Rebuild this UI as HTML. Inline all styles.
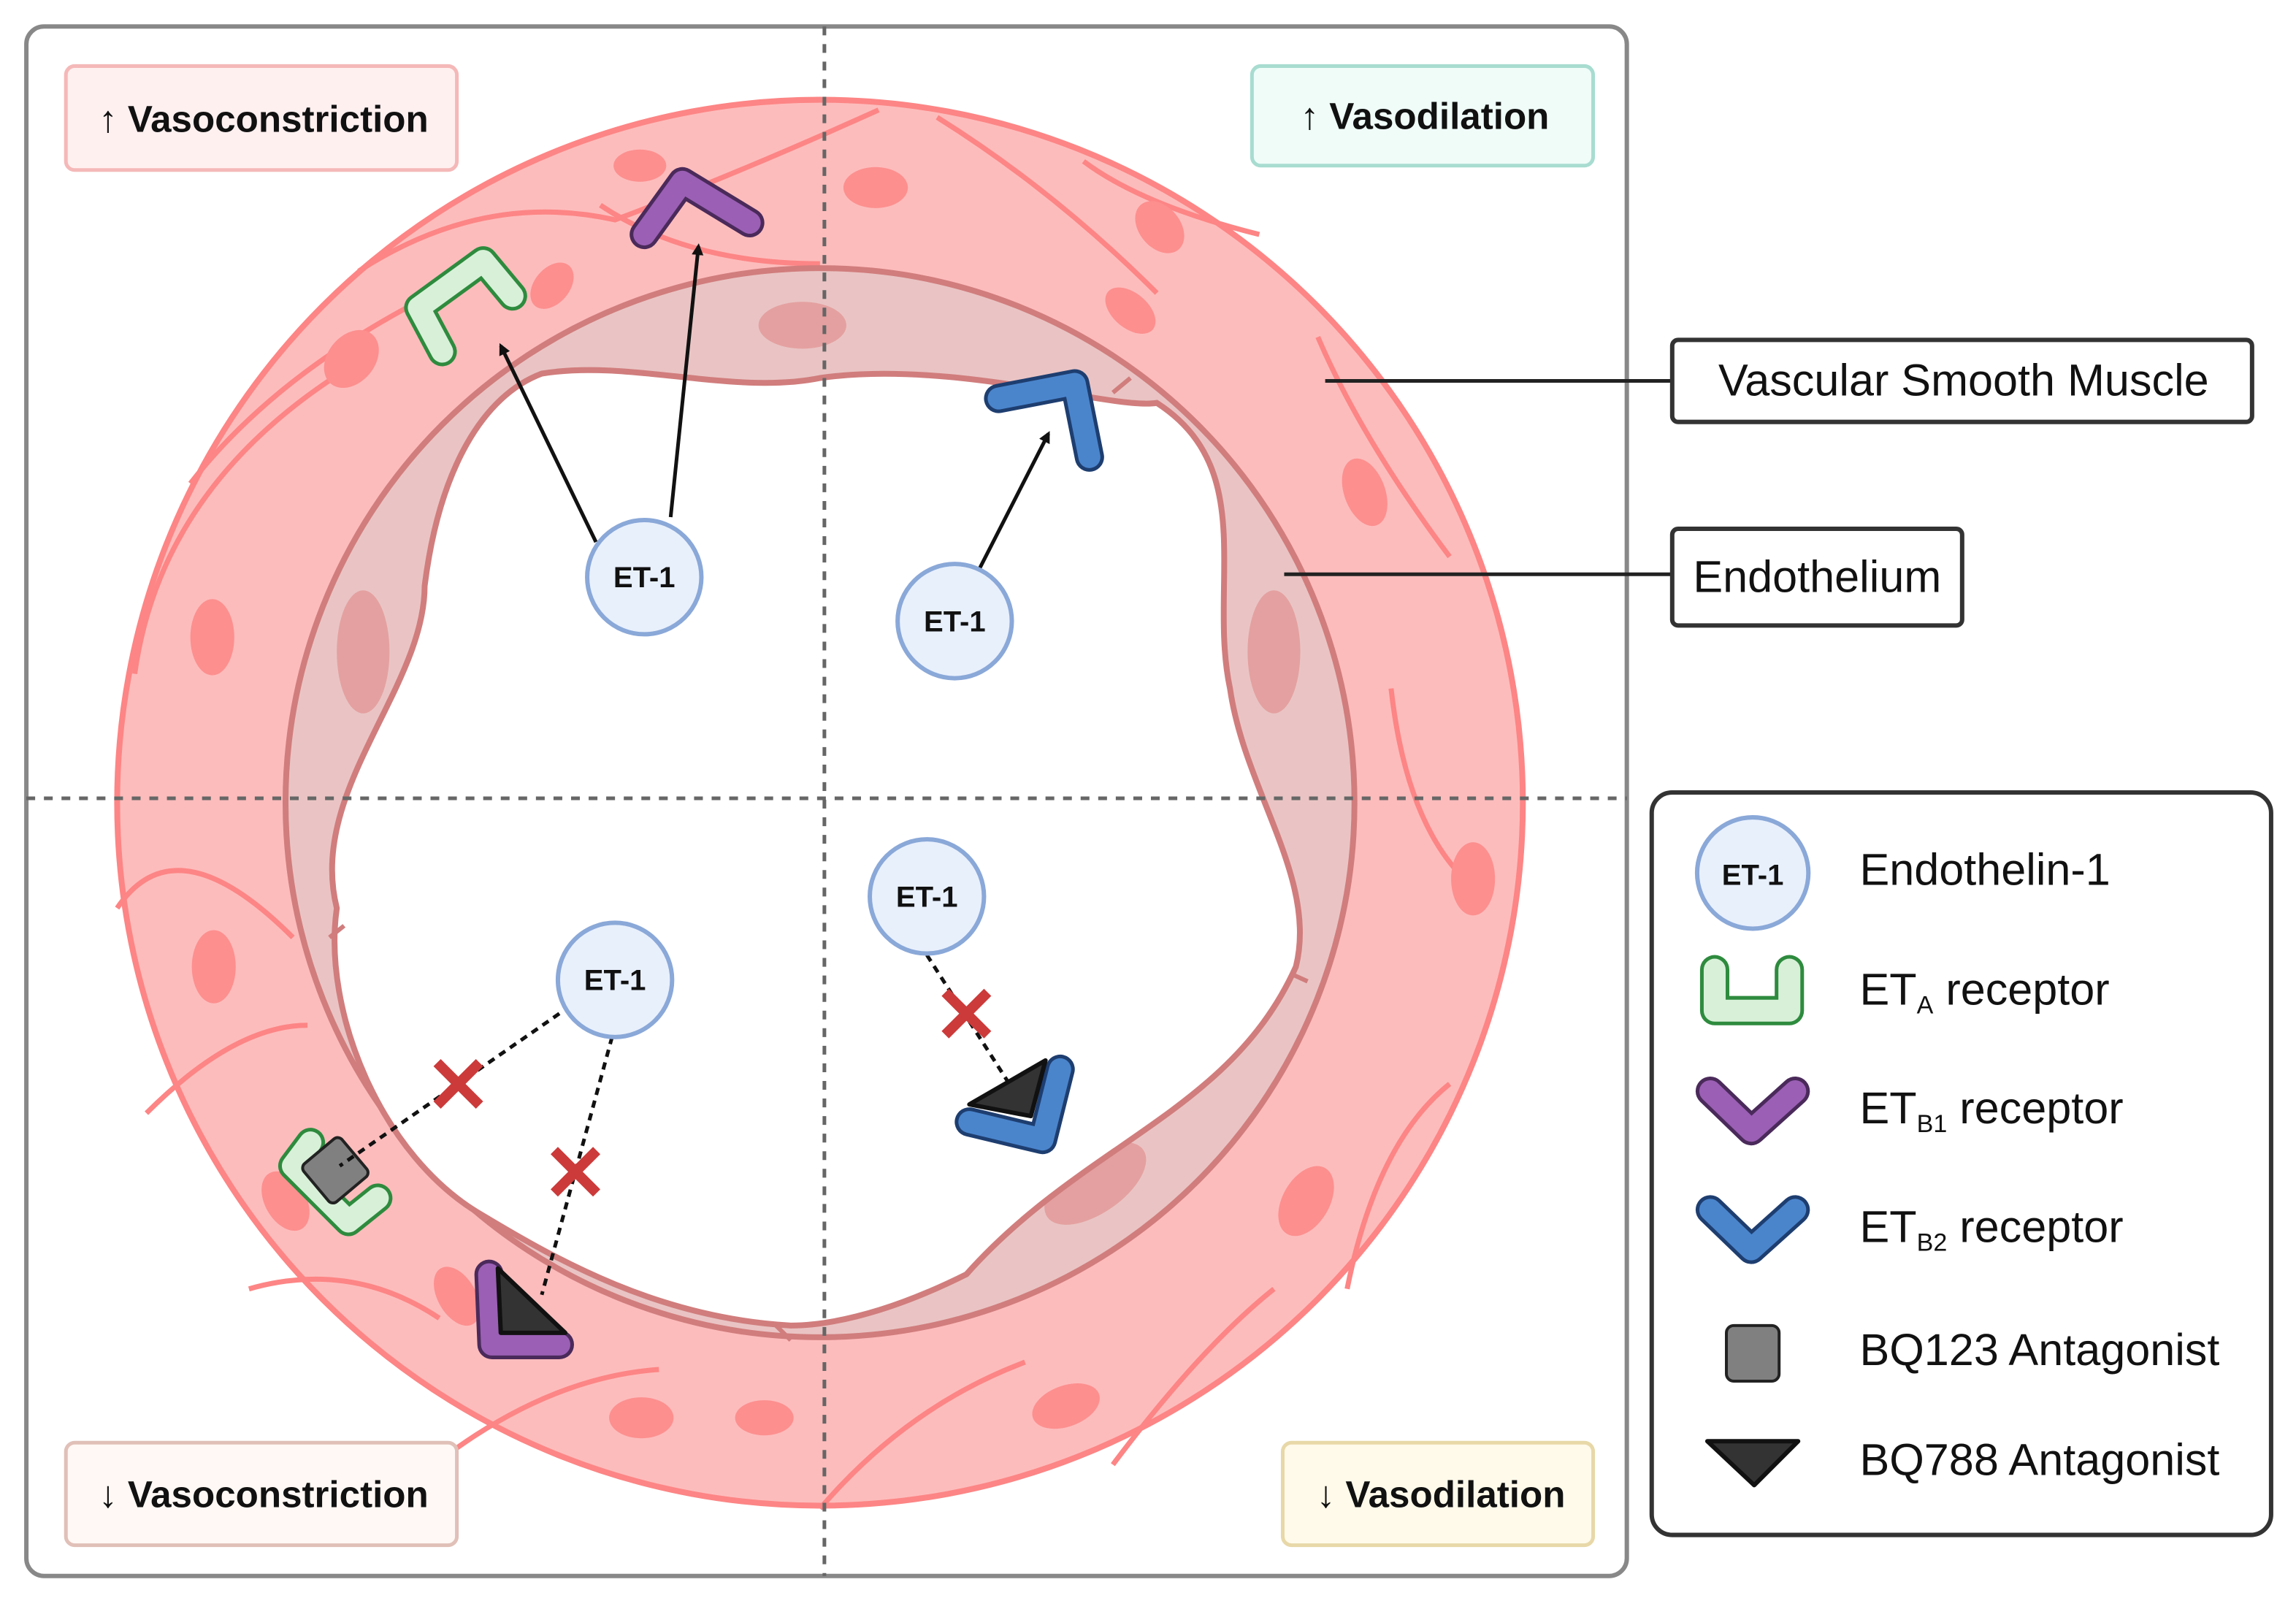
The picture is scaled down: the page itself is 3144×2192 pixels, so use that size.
<!DOCTYPE html>
<html><head><meta charset="utf-8"><style>html,body{margin:0;padding:0;background:#fff}svg{display:block}</style></head>
<body>
<svg width="3144" height="2192" viewBox="0 0 1568 1093" xmlns="http://www.w3.org/2000/svg" font-family="Liberation Sans, sans-serif">
<defs>
<marker id="ah" markerWidth="8" markerHeight="8" refX="6" refY="4" orient="auto" markerUnits="userSpaceOnUse"><path d="M0,0 L8,4 L0,8 z" fill="#111"/></marker>
</defs>
<rect x="18" y="18" width="1093" height="1058" rx="12" fill="#fff" stroke="#888" stroke-width="3"/>
<circle cx="560" cy="548" r="480" fill="#fdbcbc" stroke="#fd8585" stroke-width="4"/>
<g stroke="#fd8585" stroke-width="3.5" fill="none">
<path d="M245,185 Q330,130 420,150 Q500,120 600,75"/>
<path d="M130,330 Q200,240 340,180"/>
<path d="M92,460 Q110,330 240,250"/>
<path d="M80,620 Q120,560 200,640"/>
<path d="M100,760 Q160,700 210,700"/>
<path d="M170,880 Q240,860 300,900"/>
<path d="M310,990 Q380,940 450,935"/>
<path d="M560,1030 Q620,960 700,930"/>
<path d="M760,1000 Q820,920 870,880"/>
<path d="M920,880 Q940,780 990,740"/>
<path d="M1000,600 Q960,560 950,470"/>
<path d="M990,380 Q930,300 900,230"/>
<path d="M860,160 Q780,140 740,110"/>
<path d="M640,80 Q720,130 790,200"/>
<path d="M410,140 Q470,180 560,180"/>
</g>
<g fill="#fd8f8f">
<ellipse cx="437" cy="113" rx="18" ry="11"/>
<ellipse cx="598" cy="128" rx="22" ry="14"/>
<ellipse cx="792" cy="155" rx="14" ry="20" transform="rotate(-40 792 155)"/>
<ellipse cx="772" cy="212" rx="12" ry="20" transform="rotate(-50 772 212)"/>
<ellipse cx="377" cy="195" rx="12" ry="18" transform="rotate(40 377 195)"/>
<ellipse cx="240" cy="245" rx="16" ry="22" transform="rotate(40 240 245)"/>
<ellipse cx="145" cy="435" rx="15" ry="26"/>
<ellipse cx="146" cy="660" rx="15" ry="25"/>
<ellipse cx="195" cy="820" rx="14" ry="22" transform="rotate(-30 195 820)"/>
<ellipse cx="312" cy="885" rx="13" ry="22" transform="rotate(-30 312 885)"/>
<ellipse cx="438" cy="968" rx="22" ry="14"/>
<ellipse cx="522" cy="968" rx="20" ry="12"/>
<ellipse cx="728" cy="960" rx="24" ry="14" transform="rotate(-20 728 960)"/>
<ellipse cx="892" cy="820" rx="16" ry="26" transform="rotate(30 892 820)"/>
<ellipse cx="1006" cy="600" rx="15" ry="25"/>
<ellipse cx="932" cy="336" rx="14" ry="24" transform="rotate(-20 932 336)"/>
</g>
<circle cx="560" cy="548" r="365" fill="#eac4c4" stroke="#d17d7d" stroke-width="4"/>
<g fill="#e4a0a0">
<ellipse cx="548" cy="222" rx="30" ry="16"/>
<ellipse cx="248" cy="445" rx="18" ry="42"/>
<ellipse cx="870" cy="445" rx="18" ry="42"/>
<ellipse cx="358" cy="800" rx="38" ry="24" transform="rotate(30 358 800)"/>
<ellipse cx="748" cy="808" rx="40" ry="20" transform="rotate(-35 748 808)"/>
</g>
<path d="M560,258 C650,245 760,280 790,275 C860,320 825,400 840,470 C850,540 900,600 885,660 C840,760 740,780 660,870 C600,900 560,905 540,905 C450,900 380,860 330,830 C260,790 220,690 230,620 C210,540 290,470 290,400 C300,320 330,270 370,255 C430,245 500,270 560,258 Z" fill="#fff" stroke="#d17d7d" stroke-width="4"/>
<path d="M760,268 L772,258 M530,905 L540,915 M225,640 L235,632 M882,665 L893,670" stroke="#d17d7d" stroke-width="3"/>
<line x1="563" y1="18" x2="563" y2="1076" stroke="#666" stroke-width="2.5" stroke-dasharray="6,6"/>
<line x1="18" y1="545" x2="1111" y2="545" stroke="#666" stroke-width="2.5" stroke-dasharray="6,6"/>
<g font-weight="bold" font-size="25.5" fill="#111">
<rect x="45" y="45" width="267" height="71" rx="6" fill="#fff0f0" stroke="#f5b8b8" stroke-width="2.5"/>
<text x="180" y="90" text-anchor="middle">↑ Vasoconstriction</text>
<rect x="855" y="45" width="233" height="68" rx="6" fill="#effcf8" stroke="#a8dcd0" stroke-width="2.5"/>
<text x="973" y="88" text-anchor="middle">↑ Vasodilation</text>
<rect x="45" y="985" width="267" height="70" rx="6" fill="#fff8f4" stroke="#e0c0b8" stroke-width="2.5"/>
<text x="180" y="1029" text-anchor="middle">↓ Vasoconstriction</text>
<rect x="876" y="985" width="212" height="70" rx="6" fill="#fffaea" stroke="#e8d8a8" stroke-width="2.5"/>
<text x="984" y="1029" text-anchor="middle">↓ Vasodilation</text>
</g>
<line x1="905" y1="260" x2="1142" y2="260" stroke="#222" stroke-width="2.5"/>
<rect x="1142" y="232" width="396" height="56" rx="4" fill="#fff" stroke="#333" stroke-width="3"/>
<text x="1341" y="270" text-anchor="middle" font-size="30.5" fill="#111">Vascular Smooth Muscle</text>
<line x1="877" y1="392" x2="1142" y2="392" stroke="#222" stroke-width="2.5"/>
<rect x="1142" y="361" width="198" height="66" rx="4" fill="#fff" stroke="#333" stroke-width="3"/>
<text x="1241" y="404" text-anchor="middle" font-size="30.5" fill="#111">Endothelium</text>
<g fill="none" stroke-linecap="round" stroke-linejoin="round">
<path d="M302,240 L286,210 L330,178 L350,202" stroke="#2e8b3e" stroke-width="20"/>
<path d="M302,240 L286,210 L330,178 L350,202" stroke="#d8f0d8" stroke-width="15"/>
<path d="M440,160 L466,124 L512,152" stroke="#4a2a5a" stroke-width="20"/>
<path d="M440,160 L466,124 L512,152" stroke="#9b5fb5" stroke-width="15"/>
<path d="M682,272 L734,262 L744,312" stroke="#1e3e70" stroke-width="20"/>
<path d="M682,272 L734,262 L744,312" stroke="#4a85cc" stroke-width="15"/>
<path d="M212,780 L200,796 L238,834 L258,818" stroke="#2e8b3e" stroke-width="20"/>
<path d="M212,780 L200,796 L238,834 L258,818" stroke="#d8f0d8" stroke-width="15"/>
<path d="M334,870 L336,918 L382,918" stroke="#4a2a5a" stroke-width="20"/>
<path d="M334,870 L336,918 L382,918" stroke="#9b5fb5" stroke-width="15"/>
<path d="M662,766 L712,778 L724,730" stroke="#1e3e70" stroke-width="20"/>
<path d="M662,766 L712,778 L724,730" stroke="#4a85cc" stroke-width="15"/>
</g>
<rect x="212" y="782" width="34" height="34" rx="4" fill="#808080" stroke="#222" stroke-width="2" transform="rotate(-40 229 799)"/>
<path d="M340,866 L386,910 L342,910 Z" fill="#333" stroke="#111" stroke-width="3" stroke-linejoin="round"/>
<path d="M662,754 L714,724 L704,762 Z" fill="#333" stroke="#111" stroke-width="3" stroke-linejoin="round"/>
<g stroke="#111" stroke-width="2.5">
<line x1="407" y1="370" x2="342" y2="236" marker-end="url(#ah)"/>
<line x1="458" y1="353" x2="477" y2="168" marker-end="url(#ah)"/>
<line x1="668" y1="390" x2="716" y2="296" marker-end="url(#ah)"/>
</g>
<g stroke="#111" stroke-width="2.5" stroke-dasharray="5,4">
<line x1="382" y1="692" x2="232" y2="796"/>
<line x1="418" y1="708" x2="370" y2="884"/>
<line x1="633" y1="652" x2="688" y2="738"/>
</g>
<g stroke="#cc3a3a" stroke-width="7" stroke-linecap="square">
<path d="M301,728 L325,752 M325,728 L301,752"/>
<path d="M381,788 L405,812 M405,788 L381,812"/>
<path d="M648,680 L672,704 M672,680 L648,704"/>
</g>
<g font-weight="bold" font-size="20" fill="#111" text-anchor="middle">
<circle cx="440" cy="394" r="39" fill="#e8f0fc" stroke="#8aa8d8" stroke-width="3"/><text x="440" y="401">ET-1</text>
<circle cx="652" cy="424" r="39" fill="#e8f0fc" stroke="#8aa8d8" stroke-width="3"/><text x="652" y="431">ET-1</text>
<circle cx="420" cy="669" r="39" fill="#e8f0fc" stroke="#8aa8d8" stroke-width="3"/><text x="420" y="676">ET-1</text>
<circle cx="633" cy="612" r="39" fill="#e8f0fc" stroke="#8aa8d8" stroke-width="3"/><text x="633" y="619">ET-1</text>
</g>
<rect x="1128" y="541" width="423" height="507" rx="14" fill="#fff" stroke="#333" stroke-width="3"/>
<circle cx="1197" cy="596" r="38" fill="#e8f0fc" stroke="#8aa8d8" stroke-width="3"/>
<text x="1197" y="604" text-anchor="middle" font-weight="bold" font-size="20" fill="#111">ET-1</text>
<g fill="none" stroke-linecap="round" stroke-linejoin="round">
<path d="M1171,662 L1171,690 L1222,690 L1222,662" stroke="#2e8b3e" stroke-width="20"/>
<path d="M1171,662 L1171,690 L1222,690 L1222,662" stroke="#d8f0d8" stroke-width="15"/>
<path d="M1168,745 L1196,772 L1226,745" stroke="#4a2a5a" stroke-width="20"/>
<path d="M1168,745 L1196,772 L1226,745" stroke="#9b5fb5" stroke-width="15"/>
<path d="M1168,826 L1196,853 L1226,826" stroke="#1e3e70" stroke-width="20"/>
<path d="M1168,826 L1196,853 L1226,826" stroke="#4a85cc" stroke-width="15"/>
</g>
<rect x="1179" y="905" width="36" height="38" rx="5" fill="#808080" stroke="#222" stroke-width="2"/>
<path d="M1166,984 L1228,984 L1198,1014 Z" fill="#333" stroke="#111" stroke-width="3" stroke-linejoin="round"/>
<g font-size="30.5" fill="#111">
<text x="1270" y="604">Endothelin-1</text>
<text x="1270" y="686">ET<tspan font-size="17" dy="6">A</tspan><tspan dy="-6"> receptor</tspan></text>
<text x="1270" y="767">ET<tspan font-size="17" dy="6">B1</tspan><tspan dy="-6"> receptor</tspan></text>
<text x="1270" y="848">ET<tspan font-size="17" dy="6">B2</tspan><tspan dy="-6"> receptor</tspan></text>
<text x="1270" y="932">BQ123 Antagonist</text>
<text x="1270" y="1007">BQ788 Antagonist</text>
</g>
</svg>
</body></html>
